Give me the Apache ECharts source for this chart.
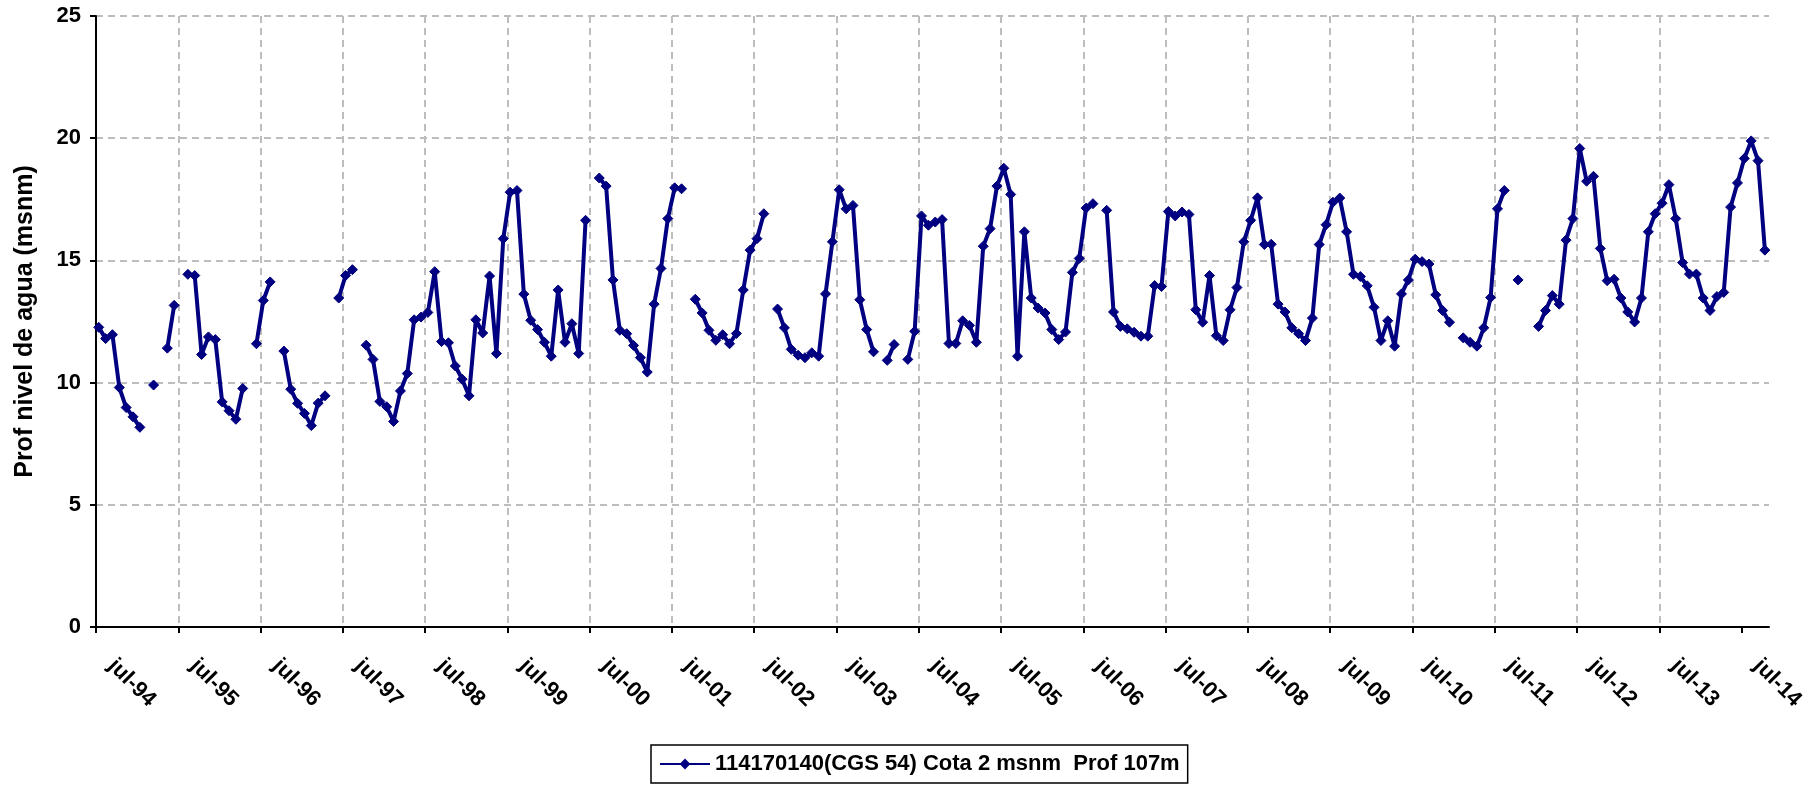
<!DOCTYPE html>
<html>
<head>
<meta charset="utf-8">
<script src="https://cdn.jsdelivr.net/npm/echarts@6/dist/echarts.min.js"></script>
<style>
html,body{margin:0;padding:0;background:#fff;}
#chart{width:1818px;height:787px;}
</style>
</head>
<body>
<div id="chart"></div>
<script>
// Monthly readings, first month = jul-94 (index 0), null = no reading
const seriesName = '114170140(CGS 54) Cota 2 msnm  Prof 107m';
const tickLabels = ['jul-94','jul-95','jul-96','jul-97','jul-98','jul-99','jul-00','jul-01','jul-02','jul-03','jul-04','jul-05','jul-06','jul-07','jul-08','jul-09','jul-10','jul-11','jul-12','jul-13','jul-14'];
const values = [
  12.26, 11.80, 11.96, 9.80, 8.98, 8.60, 8.17, null, 9.90, null, 11.41, 13.16,
  null, 14.43, 14.38, 11.15, 11.87, 11.76, 9.21, 8.85, 8.50, 9.76, null, 11.59,
  13.36, 14.12, null, 11.29, 9.73, 9.15, 8.74, 8.24, 9.16, 9.46, null, 13.46,
  14.38, 14.62, null, 11.53, 10.95, 9.23, 9.01, 8.41, 9.66, 10.37, 12.57, 12.68,
  12.87, 14.54, 11.68, 11.63, 10.68, 10.14, 9.46, 12.57, 12.03, 14.36, 11.19, 15.89,
  17.79, 17.86, 13.62, 12.55, 12.17, 11.65, 11.08, 13.79, 11.65, 12.41, 11.19, 16.64,
  null, 18.37, 18.04, 14.20, 12.14, 12.00, 11.52, 11.02, 10.43, 13.21, 14.67, 16.71,
  17.97, 17.93, null, 13.41, 12.85, 12.14, 11.73, 11.96, 11.59, 12.01, 13.79, 15.42,
  15.89, 16.91, null, 13.01, 12.24, 11.36, 11.12, 11.02, 11.22, 11.08, 13.63, 15.76,
  17.89, 17.11, 17.25, 13.39, 12.17, 11.26, null, 10.91, 11.56, null, 10.95, 12.10,
  16.82, 16.44, 16.57, 16.67, 11.60, 11.60, 12.53, 12.34, 11.65, 15.58, 16.30, 18.04,
  18.77, 17.70, 11.08, 16.17, 13.46, 13.05, 12.85, 12.17, 11.76, 12.07, 14.51, 15.08,
  17.14, 17.32, null, 17.05, 12.89, 12.30, 12.20, 12.06, 11.90, 11.90, 13.97, 13.93,
  17.00, 16.82, 16.98, 16.88, 12.98, 12.47, 14.38, 11.92, 11.72, 12.98, 13.89, 15.76,
  16.64, 17.56, 15.65, 15.66, 13.21, 12.89, 12.24, 12.00, 11.72, 12.64, 15.65, 16.46,
  17.38, 17.55, 16.17, 14.43, 14.34, 13.96, 13.08, 11.72, 12.53, 11.49, 13.63, 14.20,
  15.05, 14.95, 14.85, 13.59, 12.95, 12.47, null, 11.83, 11.65, 11.49, 12.24, 13.48,
  17.11, 17.86, null, 14.20, null, null, 12.30, 12.95, 13.56, 13.21, 15.83, 16.71,
  19.58, 18.24, 18.44, 15.49, 14.17, 14.23, 13.46, 12.89, 12.48, 13.46, 16.17, 16.91,
  17.34, 18.10, 16.71, 14.91, 14.44, 14.44, 13.46, 12.95, 13.52, 13.69, 17.18, 18.17,
  19.17, 19.89, 19.08, 15.42
];
const yTicks = [0, 5, 10, 15, 20, 25];

// reading day within the month (fraction of a month)
const dayOffset = 0.4;
const data = values.map((v, i) => [i + dayOffset, v === null ? '-' : v]);
const tickMonths = tickLabels.map((_, k) => k * 12);

const font = 'Liberation Sans, Arial, sans-serif';
const chart = echarts.init(document.getElementById('chart'), null, {renderer: 'canvas'});
chart.setOption({
  animation: false,
  backgroundColor: '#ffffff',
  grid: {left: 96, right: 49, top: 16, bottom: 160, containLabel: false},
  xAxis: {
    type: 'value',
    min: 0,
    max: 244,
    interval: 12,
    axisLine: {show: true, onZero: false, lineStyle: {color: '#000', width: 2}},
    axisTick: {show: true, length: 6, lineStyle: {color: '#000', width: 2}, customValues: tickMonths},
    axisLabel: {
      customValues: tickMonths,
      rotate: -45,
      margin: 20,
      padding: [0, 0, 0, 22],
      fontFamily: font,
      fontWeight: 'bold',
      fontSize: 22,
      color: '#000',
      formatter: v => tickLabels[Math.round(v / 12)] || ''
    },
    splitLine: {show: true, showMinLine: false, showMaxLine: false, lineStyle: {color: '#bdbdbd', width: 2, type: [7, 5]}}
  },
  yAxis: {
    type: 'value',
    min: yTicks[0],
    max: yTicks[yTicks.length - 1],
    interval: 5,
    name: 'Prof nivel de agua (msnm)',
    nameLocation: 'middle',
    nameGap: 58,
    nameRotate: 90,
    nameTextStyle: {fontFamily: font, fontWeight: 'bold', fontSize: 25, color: '#000'},
    axisLine: {show: true, lineStyle: {color: '#000', width: 2}},
    axisTick: {show: true, length: 6, lineStyle: {color: '#000', width: 2}},
    axisLabel: {margin: 15, fontFamily: font, fontWeight: 'bold', fontSize: 22, color: '#000'},
    splitLine: {show: true, showMinLine: false, lineStyle: {color: '#bdbdbd', width: 2, type: [7, 5]}}
  },
  legend: {
    show: true,
    left: 651,
    top: 745,
    orient: 'horizontal',
    padding: [8, 8, 8, 8],
    borderColor: '#000',
    borderWidth: 1.5,
    itemWidth: 50,
    itemHeight: 10,
    itemGap: 5,
    textStyle: {fontFamily: font, fontWeight: 'bold', fontSize: 22, color: '#000'},
    data: [seriesName]
  },
  series: [{
    name: seriesName,
    type: 'line',
    data: data,
    connectNulls: false,
    symbol: 'diamond',
    symbolSize: 10,
    showAllSymbol: true,
    lineStyle: {color: '#000080', width: 4},
    itemStyle: {color: '#000080', borderColor: '#000080', borderWidth: 1},
    emphasis: {disabled: true}
  }]
});
</script>
</body>
</html>
